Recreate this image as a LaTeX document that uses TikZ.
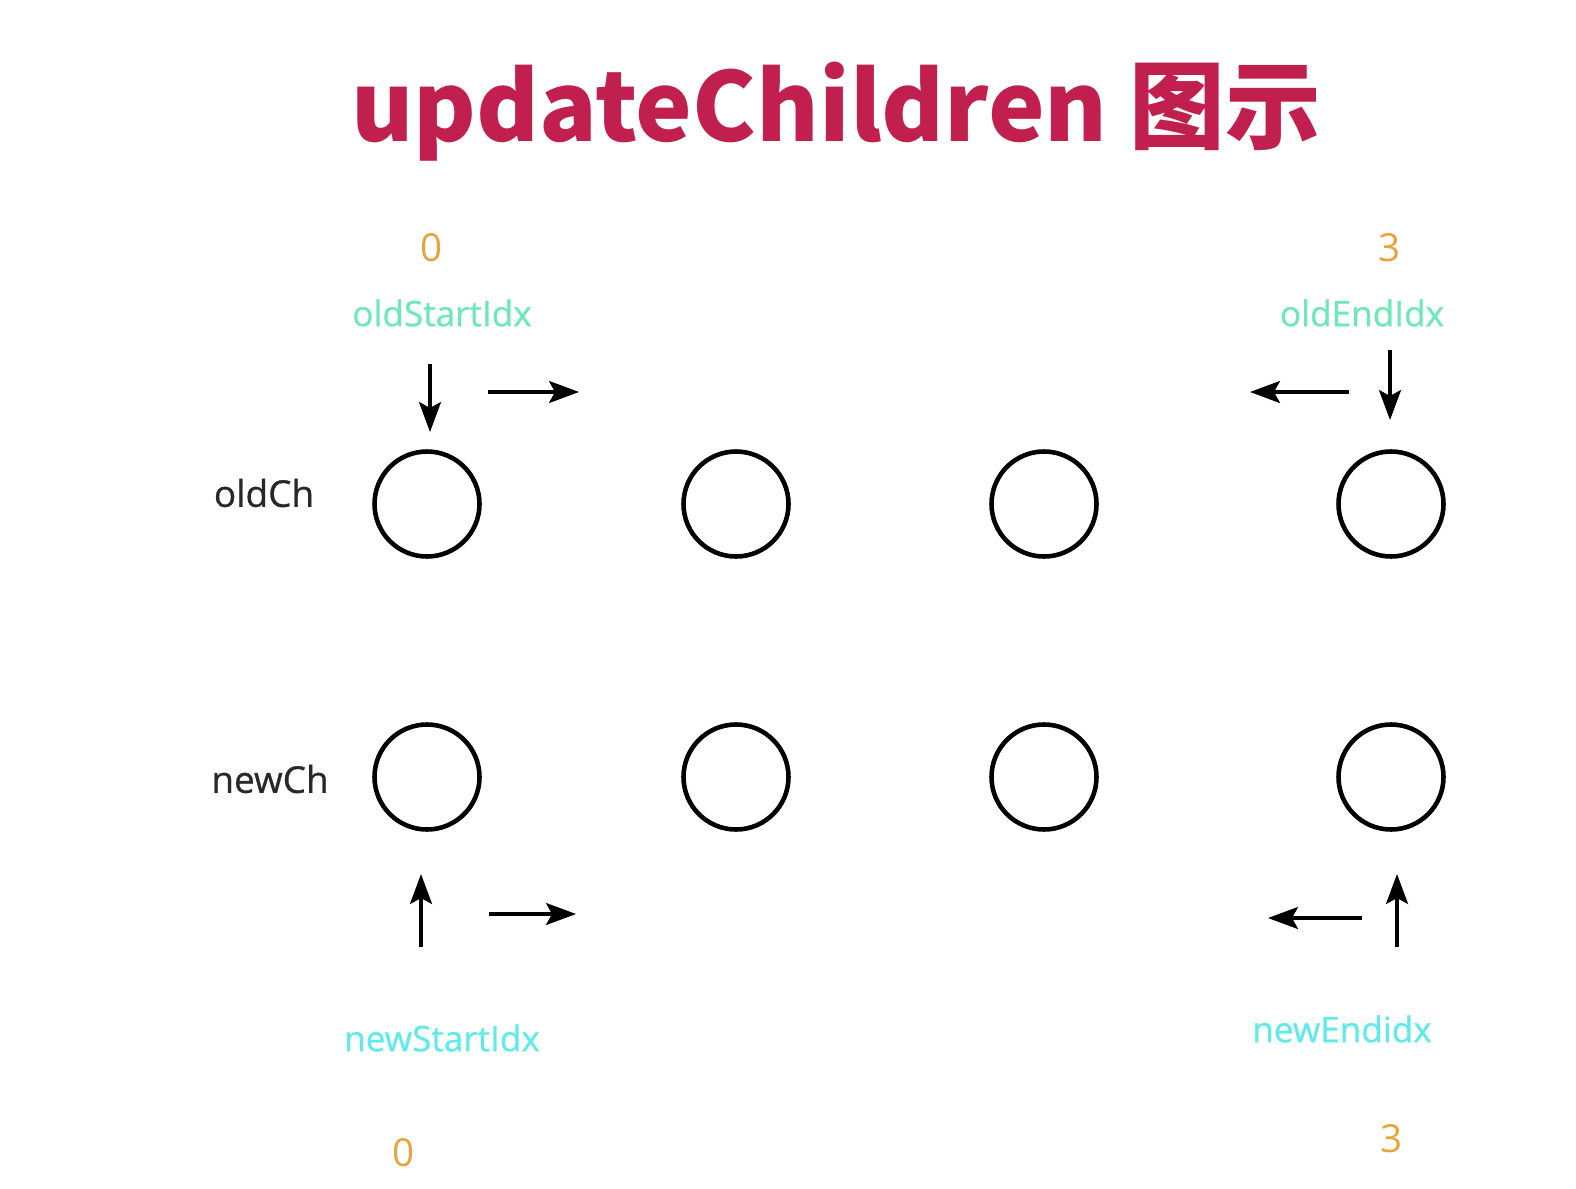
\documentclass[tikz,border=0pt]{standalone}
\usepackage{fontspec}
\setmainfont{Open Sans}
\newfontfamily\labelfont[FakeBold=0.7]{Open Sans}
\newfontfamily\cjk{Noto Sans CJK SC}
\usetikzlibrary{arrows.meta,positioning}
\definecolor{titlered}{RGB}{193,32,78}
\definecolor{idxorange}{RGB}{232,163,60}
\definecolor{oldgreen}{RGB}{110,232,182}
\definecolor{newcyan}{RGB}{96,234,234}
\definecolor{labelgray}{RGB}{40,40,40}
\tikzset{
  slot/.style={
    circle,
    draw=black,
    line width=1.3pt,
    inner sep=0pt,
    minimum size=1.05cm
  },
  chlabel/.style={
    text=labelgray,
    font=\labelfont\fontsize{10.5}{13}\selectfont
  },
  idxnum/.style={
    text=idxorange,
    font=\fontsize{11}{13}\selectfont
  },
  oldidx/.style={
    text=oldgreen,
    font=\labelfont\fontsize{10}{12}\selectfont
  },
  newidx/.style={
    text=newcyan,
    font=\labelfont\fontsize{10}{12}\selectfont
  },
  ptr/.style={-{Stealth[length=3mm,width=2.2mm,inset=0.6mm]}, line width=0.9pt}
}

\begin{document}
\begin{tikzpicture}
    \useasboundingbox (0,0) rectangle (15.76,11.88);

    \node[text=titlered, font=\cjk\bfseries\fontsize{27.2}{31}\selectfont, anchor=base] (title) at (8.36,10.47) {updateChildren 图示};

    % old children
    \node[chlabel] (oldch) at (2.64,6.95) {oldCh};
    \node[slot] (o1) at (4.27,6.84) {};
    \node[slot] (o2) at (7.36,6.84) {};
    \node[slot] (o3) at (10.44,6.84) {};
    \node[slot] (o4) at (13.91,6.84) {};

    % new children
    \node[chlabel] (newch) at (2.70,4.09) {newCh};
    \node[slot] (n1) at (4.27,4.11) {};
    \node[slot] (n2) at (7.36,4.11) {};
    \node[slot] (n3) at (10.44,4.11) {};
    \node[slot] (n4) at (13.91,4.11) {};

    % index labels
    \node[idxnum] (osnum) at (4.32,9.40) {0};
    \node[oldidx] (oslbl) at (4.42,8.75) {oldStartIdx};
    \node[idxnum] (oenum) at (13.90,9.40) {3};
    \node[oldidx] (oelbl) at (13.62,8.75) {oldEndIdx};
    \node[newidx] (nslbl) at (4.42,1.50) {newStartIdx};
    \node[idxnum] (nsnum) at (4.04,0.35) {0};
    \node[newidx] (nelbl) at (13.42,1.59) {newEndidx};
    \node[idxnum] (nenum) at (13.92,0.49) {3};

    % pointer arrows
    \coordinate (osa) at (4.30,8.24);
    \coordinate (osb) at (4.30,7.56);
    \coordinate (osc) at (4.88,7.96);
    \coordinate (osd) at (5.79,7.96);
    \coordinate (oea) at (13.90,8.38);
    \coordinate (oeb) at (13.90,7.68);
    \coordinate (oec) at (13.49,7.96);
    \coordinate (oed) at (12.50,7.96);
    \coordinate (nsa) at (4.21,2.41);
    \coordinate (nsb) at (4.21,3.14);
    \coordinate (nsc) at (4.89,2.74);
    \coordinate (nsd) at (5.76,2.74);
    \coordinate (nea) at (13.97,2.41);
    \coordinate (neb) at (13.97,3.14);
    \coordinate (nec) at (13.62,2.70);
    \coordinate (ned) at (12.68,2.70);

    \draw[ptr] (osa) -- (osb);
    \draw[ptr] (osc) -- (osd);
    \draw[ptr] (oea) -- (oeb);
    \draw[ptr] (oec) -- (oed);
    \draw[ptr] (nsa) -- (nsb);
    \draw[ptr] (nsc) -- (nsd);
    \draw[ptr] (nea) -- (neb);
    \draw[ptr] (nec) -- (ned);
\end{tikzpicture}
\end{document}
